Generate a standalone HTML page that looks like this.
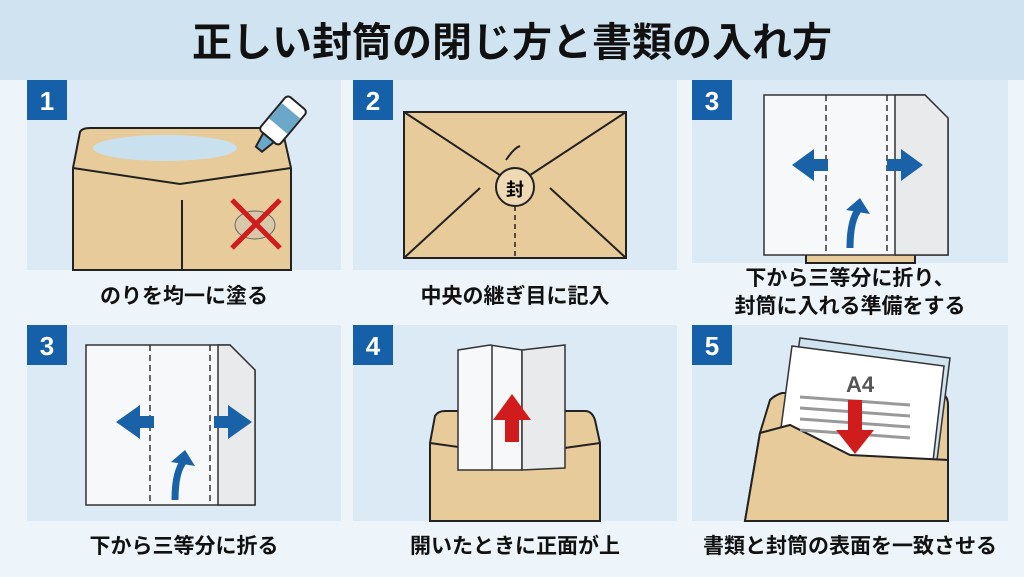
<!DOCTYPE html><html><head><meta charset="utf-8"><style>
body{margin:0;width:1024px;height:572px;background:#eef5fa;overflow:hidden;font-family:"Liberation Sans","Noto Sans CJK JP",sans-serif}
</style></head><body>
<svg width="1024" height="572" xmlns="http://www.w3.org/2000/svg" font-family="Liberation Sans, Noto Sans CJK JP, sans-serif">
<rect x="0" y="0" width="1024" height="80" fill="#cfe3f0"/>
<text x="512" y="56" text-anchor="middle" font-size="40" font-weight="bold" fill="#111">正しい封筒の閉じ方と書類の入れ方</text>
<g fill="#dbeaf5">
<rect x="27" y="80" width="314" height="190"/><rect x="353" y="80" width="324" height="190"/><rect x="692" y="80" width="316" height="183"/>
<rect x="27" y="325" width="314" height="196"/><rect x="353" y="325" width="324" height="196"/><rect x="692" y="325" width="316" height="196"/>
</g>
<g fill="#1560a8"><rect x="27" y="80" width="40" height="40"/><rect x="353" y="80" width="40" height="40"/><rect x="692" y="80" width="40" height="40"/>
<rect x="27" y="325" width="40" height="40"/><rect x="353" y="325" width="40" height="40"/><rect x="692" y="325" width="40" height="40"/></g>
<g fill="#fff" font-size="26" font-weight="bold" text-anchor="middle">
<text x="47" y="110">1</text><text x="373" y="110">2</text><text x="712" y="110">3</text>
<text x="47" y="355">3</text><text x="373" y="355">4</text><text x="712" y="355">5</text></g>
<g stroke="#222" stroke-width="2" fill="#e8cb9a">
<path d="M73 270V168L80 132Q82 128 90 128H282L291 168V270Z"/>
<path d="M73 168L180 184L291 168" fill="none"/><path d="M182 200V270" fill="none"/>
<rect x="404" y="112" width="222" height="146"/>
<path d="M404 112L515 185L626 112M404 258L480 188M626 258L550 188" fill="none"/>
<circle cx="515" cy="187" r="19" fill="#efd9b4"/>
<path d="M806 263V240Q808 233 815 233H906Q914 233 915 242V263Z"/>
<path d="M430 521V443L435 416Q438 411 445 411H585Q592 411 595 420L600 443V521Z"/>
<path d="M430 443L515 455L600 443" fill="none"/>
<path d="M745 521L760 433L770 400Q775 395 782 393H940Q948 395 948 405V521Z"/>
</g>
<ellipse cx="165" cy="148" rx="72" ry="13" fill="#c9e0ee"/>
<g transform="rotate(40 275 130)"><rect x="262" y="95" width="26" height="45" rx="4" fill="#fff" stroke="#222" stroke-width="2"/><rect x="263" y="105" width="24" height="20" fill="#6aa7c8"/><path d="M268 140h14l-3 15h-8z" fill="#6aa7c8" stroke="#222" stroke-width="2"/></g>
<ellipse cx="255" cy="225" rx="20" ry="14" fill="#d8c7a8" stroke="#666"/>
<path d="M232 200L280 248M280 200L232 248" stroke="#d01c1c" stroke-width="5"/>
<text x="515" y="196" font-size="18" font-weight="bold" text-anchor="middle">封</text>
<path d="M506 160q8-12 14-14" stroke="#222" stroke-width="2" fill="none"/>
<path d="M515 206V258" stroke="#222" stroke-width="1.5" stroke-dasharray="5 4"/>
<g stroke="#333" stroke-width="1.5">
<path d="M764 95H925L948 118V255H764Z" fill="#f6f8fa"/><path d="M895 95H925L948 118V255H895Z" fill="#e8eaec"/>
<path d="M826 95V255M887 95V255" stroke-dasharray="6 4"/>
<path d="M86 345H230L255 370V505H86Z" fill="#f6f8fa"/><path d="M218 345H230L255 370V505H218Z" fill="#e8eaec"/>
<path d="M150 345V505M210 345V505" stroke-dasharray="6 4"/>
<path d="M458 350L490 345L522 350V470H458Z" fill="#f6f8fa"/><path d="M522 350L565 345V468L522 470Z" fill="#e8eaec"/>
<path d="M492 345V470"/>
<path d="M800 338L950 358L937 460L785 440Z" fill="#cfe3f0"/>
<path d="M792 346L944 366L932 470L778 450Z" fill="#fff"/>
</g>
<path d="M760 433L790 425L850 455L948 460V521H745Z" fill="#e8cb9a" stroke="#222" stroke-width="2"/>
<text x="860" y="392" font-size="22" font-weight="bold" fill="#555" text-anchor="middle">A4</text>
<g stroke="#999" stroke-width="3"><path d="M800 397l110 8M800 408l110 8M800 419l110 8M800 430l110 8"/></g>
<path d="M848 400h14v30h12l-19 24l-19-24h12z" fill="#d01c1c"/>
<path d="M505 442v-22h-12l19-26l19 26h-12v22z" fill="#d01c1c"/>
<g fill="#1a62a8">
<path d="M792 165l22-16v10h14v12h-14v10z"/><path d="M923 165l-22-16v10h-14v12h14v10z"/>
<path d="M116 422l24-17v11h14v12h-14v11z"/><path d="M252 422l-24-17v11h-14v12h14v11z"/>
</g>
<path d="M850 248q0-30 10-40" stroke="#1a62a8" stroke-width="7" fill="none"/><path d="M846 210l14-12l10 16z" fill="#1a62a8"/>
<path d="M175 500q0-30 10-40" stroke="#1a62a8" stroke-width="7" fill="none"/><path d="M171 462l14-12l10 16z" fill="#1a62a8"/>
<g font-size="21" font-weight="bold" fill="#111" text-anchor="middle">
<text x="184" y="303">のりを均一に塗る</text>
<text x="515" y="303">中央の継ぎ目に記入</text>
<text x="850" y="285">下から三等分に折り、</text>
<text x="850" y="313">封筒に入れる準備をする</text>
<text x="184" y="553">下から三等分に折る</text>
<text x="515" y="553">開いたときに正面が上</text>
<text x="850" y="553">書類と封筒の表面を一致させる</text>
</g>
</svg>
</body></html>
